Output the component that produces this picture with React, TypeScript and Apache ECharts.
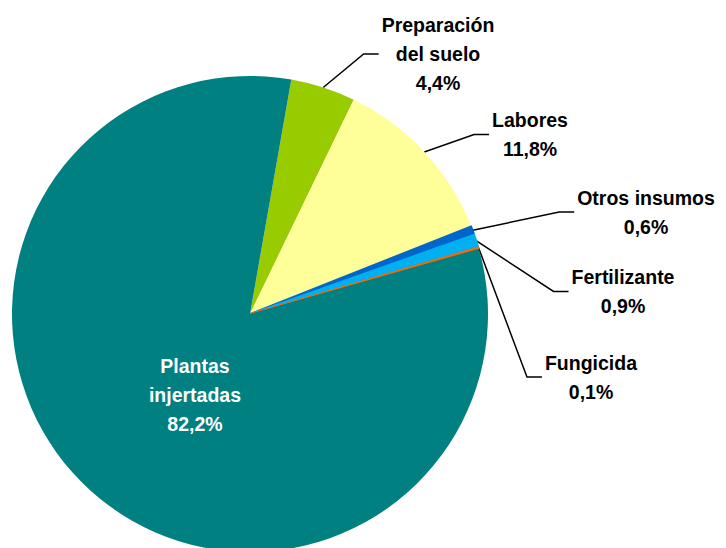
import React, { useEffect, useRef } from "react";
import * as echarts from "echarts";

const categories = [
  "Preparación\ndel suelo",
  "Labores",
  "Otros insumos",
  "Fertilizante",
  "Fungicida",
  "Plantas\ninjertadas",
];
const values = [4.4, 11.8, 0.6, 0.9, 0.1, 82.2];
const colors = ["#99CC00", "#FFFF99", "#0066CC", "#00B0F0", "#FF6600", "#008080"];
// label centre positions (layout only)
const labelPos: number[][] = [
  [438, 54],
  [530, 134.5],
  [646, 212],
  [623, 291.5],
  [591, 377],
  [195, 394.5],
];
const insideIndex = 5;

const fmt = (v: number) => v.toFixed(1).replace(".", ",") + "%";

export default function App() {
  const ref = useRef<HTMLDivElement>(null);
  useEffect(() => {
    if (!ref.current) return;
    const chart = echarts.init(ref.current, undefined, { renderer: "svg" });
    const data = categories.map((name, i) => {
      const inside = i === insideIndex;
      const tiny = values[i] < 1;
      return {
        name,
        value: values[i],
        itemStyle: {
          color: colors[i],
          borderColor: colors[i],
          borderWidth: tiny ? 1.5 : 0,
        },
        label: inside
          ? { position: "inside", color: "#ffffff" }
          : { position: "outside", color: "#000000" },
        labelLine: { show: !inside },
      };
    });
    chart.setOption({
      animation: false,
      backgroundColor: "#ffffff",
      series: [
        {
          type: "pie",
          center: [250, 314],
          radius: 238,
          startAngle: 80,
          clockwise: true,
          silent: true,
          avoidLabelOverlap: false,
          label: {
            show: true,
            formatter: (p: any) => `${p.name}\n${fmt(p.value)}`,
            fontFamily: "'Liberation Sans', Arial, sans-serif",
            fontWeight: "bold",
            fontSize: 19.5,
            lineHeight: 29,
            align: "center",
          },
          labelLine: {
            show: true,
            length: 10,
            length2: 10,
            lineStyle: { color: "#000000", width: 1.5 },
          },
          labelLayout: (params: any) => {
            const i = params.dataIndex;
            const [x, y] = labelPos[i];
            const res: any = { x, y, align: "center", verticalAlign: "middle" };
            if (i !== insideIndex && params.labelLinePoints) {
              const p0 = params.labelLinePoints[0];
              const endX = x - params.labelRect.width / 2 - 3;
              res.labelLinePoints = [p0, [endX - 15, y], [endX, y]];
            }
            return res;
          },
          data,
        },
      ],
    });
    return () => chart.dispose();
  }, []);
  return (
    <div
      ref={ref}
      style={{ position: "fixed", left: 0, top: 0, width: 726, height: 548, background: "#fff" }}
    />
  );
}
